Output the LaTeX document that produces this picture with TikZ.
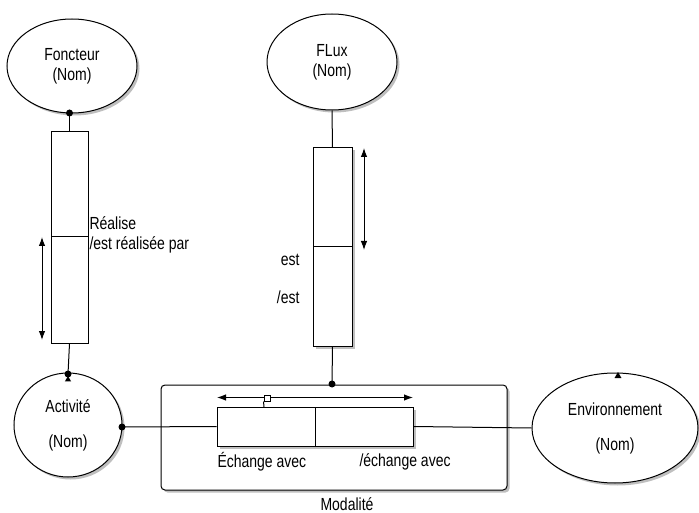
\documentclass[tikz,border=0pt]{standalone}
\usepackage{fontspec}
\setmainfont{Liberation Sans}[FakeStretch=0.8]
\usetikzlibrary{shapes.geometric,shadows,arrows.meta}
\begin{document}
\begin{tikzpicture}[x=1pt,y=-1pt,
  font=\fontsize{17.5}{20}\selectfont,
  line width=1pt,
  shd/.style={drop shadow={shadow xshift=2.5pt,shadow yshift=-2.5pt,fill=gray!50,opacity=1}},
  ell/.style={draw,ellipse,fill=white,inner sep=0pt,align=center,shd},
  box/.style={draw,rectangle,fill=white,inner sep=0pt},
  dot/.style={circle,fill=black,inner sep=0pt,minimum size=7pt},
  tri/.style={regular polygon,regular polygon sides=3,fill=black,inner sep=0pt,minimum size=7pt},
  dbl/.style={{Latex[length=9pt,width=6.5pt]}-{Latex[length=9pt,width=6.5pt]}},
  lbl/.style={inner sep=0pt}
]
\useasboundingbox (0,0) rectangle (699,513);

% Ellipses
\node[ell,minimum width=130pt,minimum height=94pt] (fonc) at (72,66) {Foncteur\\(Nom)};
\node[ell,minimum width=130pt,minimum height=96pt] (flux) at (332,62) {FLux\\(Nom)};
\node[ell,minimum width=108pt,minimum height=104pt] (act) at (68,425) {Activité\\[15pt](Nom)};
\node[ell,minimum width=166pt,minimum height=110pt] (env) at (615,428) {Environnement\\[15pt](Nom)};

% Foncteur relation boxes
\node[box,minimum width=37pt,minimum height=105pt] (f1) at (69.5,184.5) {};
\node[box,minimum width=37pt,minimum height=106pt] (f2) at (69.5,290) {};

% Flux relation boxes (with shadow)
\node[box,shd,minimum width=39pt,minimum height=198pt] (fsh) at (332.5,247) {};
\node[box,minimum width=39pt,minimum height=99pt] (f3) at (332.5,197.5) {};
\node[box,minimum width=39pt,minimum height=99pt] (f4) at (332.5,296.5) {};

% Modalite box
\node[box,shd,rounded corners=4pt,minimum width=346pt,minimum height=105pt] (mod) at (334,437.5) {};
\node[box,shd,minimum width=196pt,minimum height=39pt] (esh) at (315,426.5) {};
\node[box,minimum width=98pt,minimum height=39pt] (e1) at (266,426.5) {};
\node[box,minimum width=98pt,minimum height=39pt] (e2) at (364,426.5) {};

% Dots
\node[dot] (d1) at (69.5,113) {};
\node[dot] (d2) at (68,374) {};
\node[dot] (d3) at (332,384) {};
\node[dot] (d4) at (122,427) {};
\node[tri,minimum size=7pt] (t1) at (68,379.5) {};
\node[tri,minimum size=8pt] (t2) at (618,376) {};

% Connectors
\draw (d1.center) -- (f1.north);
\draw (f2.south) -- (d2.center);
\draw (flux.south) -- (f3.north);
\draw (f4.south) -- (d3.center);
\draw (d4.center) -- (e1.west);
\draw (e2.east) -- (env.west);

% Direction arrows
\coordinate (a1) at (42,237);
\coordinate (a2) at (42,340);
\draw[dbl] (a1) -- (a2);
\coordinate (b1) at (364,148);
\coordinate (b2) at (364,250);
\draw[dbl] (b1) -- (b2);
\coordinate (c1) at (217,397.5);
\coordinate (c2) at (413,397.5);
\draw[dbl] (c1) -- (c2);
\node[box,minimum size=6pt] (sq) at (267,398) {};
\coordinate (sqb) at (264,407);
\draw (sq.south west) -- (sqb);

% Labels
\node[lbl,anchor=west] (r1) at (89,223) {Réalise};
\node[lbl,anchor=west] (r2) at (89,245) {/est réalisée par};
\node[lbl,anchor=east] (s1) at (300,260) {est};
\node[lbl,anchor=east] (s2) at (300,297) {/est};
\node[lbl,anchor=west] (x1) at (217,462) {Échange avec};
\node[lbl,anchor=west] (x2) at (359,462) {/échange avec};
\node[lbl] (m) at (347,504) {Modalité};
\end{tikzpicture}
\end{document}
